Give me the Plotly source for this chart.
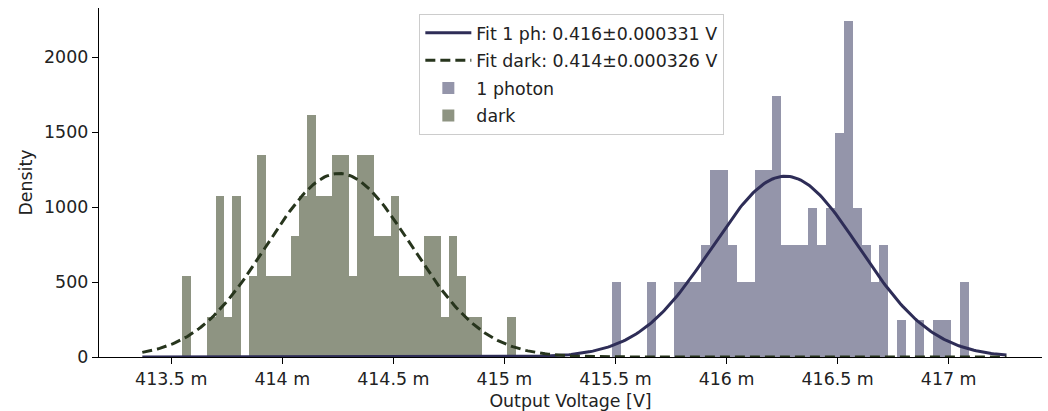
import numpy as np
import plotly.graph_objects as go

# ---------------- data ----------------
# histogram bin ranges (V) and counts (40 bins each)
dark_range = [0.413550, 0.415051]
dark_counts = [2, 0, 0, 1, 4, 1, 4, 0, 2, 5,
               2, 2, 2, 3, 4, 6, 4, 4, 5, 5,
               2, 5, 5, 3, 3, 4, 2, 2, 2, 3,
               3, 1, 3, 2, 1, 1, 0, 0, 0, 1]
photon_range = [0.415483, 0.417090]
photon_counts = [2, 0, 0, 0, 2, 0, 0, 2, 2, 2,
                 3, 5, 5, 3, 2, 2, 5, 5, 7, 3,
                 3, 3, 4, 3, 4, 6, 9, 4, 3, 2,
                 3, 0, 1, 0, 1, 0, 1, 1, 0, 2]

# Gaussian fit parameters (mean, sigma) in V
fit_photon = [0.416265, 0.000331]
fit_dark = [0.414255, 0.000326]
fit_x_range = [0.41337, 0.41726]

x_tickvals = [0.4135, 0.414, 0.4145, 0.415, 0.4155, 0.416, 0.4165, 0.417]
x_ticktext = ["413.5 m", "414 m", "414.5 m", "415 m", "415.5 m", "416 m", "416.5 m", "417 m"]
y_tickvals = [0, 500, 1000, 1500, 2000]

# ---------------- styling ----------------
C_PH_BAR = "#9495aa"
C_DK_BAR = "#8e9482"
C_PH_LINE = "#2e2d57"
C_DK_LINE = "#27351d"
FONT = "DejaVu Sans"
FS = 17.4


def hist_bars(rng, counts):
    counts = np.asarray(counts, dtype=float)
    edges = np.linspace(rng[0], rng[1], len(counts) + 1)
    w = edges[1] - edges[0]
    centers = (edges[:-1] + edges[1:]) / 2
    dens = counts / (counts.sum() * w)
    return centers, dens, w


def gauss(x, mu, s):
    return np.exp(-0.5 * ((x - mu) / s) ** 2) / (s * np.sqrt(2 * np.pi))


xf = np.linspace(fit_x_range[0], fit_x_range[1], 400)

fig = go.Figure()

fig.add_trace(go.Scatter(
    x=xf, y=gauss(xf, *fit_photon), mode="lines", legendgroup="g1",
    line=dict(color=C_PH_LINE, width=3),
    name=f"Fit 1 ph: {fit_photon[0]:.3f}\u00b1{fit_photon[1]:.6f} V"))
fig.add_trace(go.Scatter(
    x=xf, y=gauss(xf, *fit_dark), mode="lines", legendgroup="g2",
    line=dict(color=C_DK_LINE, width=3, dash="10px,5px"),
    name=f"Fit dark: {fit_dark[0]:.3f}\u00b1{fit_dark[1]:.6f} V"))

c, d, w = hist_bars(photon_range, photon_counts)
fig.add_trace(go.Bar(x=c, y=d, width=w, marker=dict(color=C_PH_BAR, line=dict(width=0)),
                     legendgroup="g3", name="1 photon"))
c, d, w = hist_bars(dark_range, dark_counts)
fig.add_trace(go.Bar(x=c, y=d, width=w, marker=dict(color=C_DK_BAR, line=dict(width=0)),
                     legendgroup="g4", name="dark"))

fig.update_layout(
    width=1048, height=411,
    margin=dict(l=99, r=6, t=8, b=54),
    paper_bgcolor="white", plot_bgcolor="white",
    font=dict(family=FONT, size=FS, color="#222222"),
    barmode="overlay", bargap=0,
    showlegend=True,
    legend=dict(x=0.3397, y=0.983, xanchor="left", yanchor="top",
                bgcolor="rgba(255,255,255,0.8)", bordercolor="#cccccc", borderwidth=1,
                font=dict(family=FONT, size=FS, color="#222222"),
                tracegroupgap=2, itemwidth=46),
)
fig.update_xaxes(
    range=[0.413175, 0.41742], showgrid=False, zeroline=False, automargin=False,
    showline=True, linecolor="black", linewidth=1.4,
    ticks="outside", ticklen=6, tickwidth=1.4, tickcolor="black",
    tickvals=x_tickvals, ticktext=x_ticktext,
    title=dict(text="Output Voltage [V]", standoff=14, font=dict(size=FS)),
)
fig.update_yaxes(
    range=[0, 2327], showgrid=False, zeroline=False, automargin=False,
    showline=True, linecolor="black", linewidth=1.4,
    ticks="outside", ticklen=6, tickwidth=1.4, tickcolor="black",
    tickvals=y_tickvals,
    title=dict(text="Density", standoff=6, font=dict(size=FS)),
)

fig.write_html(
    "out.html",
    config={"displayModeBar": False},
    post_script="document.body.style.margin='0px';document.body.style.overflow='hidden';",
)
